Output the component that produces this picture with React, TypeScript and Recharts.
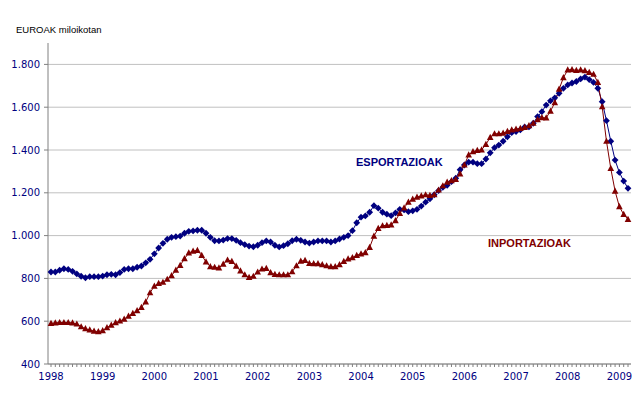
import { LineChart, Line, XAxis, YAxis, CartesianGrid } from 'recharts';

const years = [1998, 1999, 2000, 2001, 2002, 2003, 2004, 2005, 2006, 2007, 2008, 2009];
const monthNums = ['01', '02', '03', '04', '05', '06', '07', '08', '09', '10', '11', '12'];

// Jan 1998 .. Mar 2009
const months: string[] = years
  .flatMap((y) => monthNums.map((m) => `${y}-${m}`))
  .slice(0, 135);

const esportazioak = [
  830, 830, 838, 845, 842, 833, 821, 810, 803, 808, 808, 808,
  811, 817, 819, 817, 827, 842, 845, 845, 852, 858, 873, 889,
  915, 942, 964, 983, 992, 995, 998, 1011, 1020, 1022, 1025, 1025,
  1011, 992, 976, 975, 979, 986, 986, 978, 967, 958, 951, 948,
  955, 967, 975, 970, 955, 947, 953, 962, 976, 983, 978, 970,
  965, 970, 975, 975, 975, 970, 975, 984, 992, 1000, 1023, 1060,
  1086, 1092, 1109, 1140, 1128, 1109, 1100, 1093, 1106, 1123, 1120, 1112,
  1116, 1123, 1138, 1156, 1172, 1191, 1210, 1226, 1235, 1252, 1268, 1308,
  1330, 1343, 1343, 1336, 1336, 1358, 1387, 1411, 1423, 1441, 1462, 1481,
  1486, 1494, 1508, 1508, 1525, 1556, 1579, 1610, 1630, 1644, 1665, 1688,
  1704, 1713, 1720, 1732, 1741, 1729, 1716, 1688, 1626, 1537, 1441, 1353,
  1295, 1255, 1221,
];

const inportazioak = [
  590, 592, 594, 594, 594, 592, 587, 574, 565, 559, 554, 551,
  556, 570, 582, 593, 601, 610, 624, 637, 649, 665, 690, 733,
  764, 777, 782, 796, 813, 839, 861, 892, 919, 927, 931, 908,
  877, 855, 852, 849, 867, 886, 880, 857, 835, 817, 805, 810,
  830, 844, 847, 827, 819, 817, 817, 817, 831, 859, 881, 884,
  870, 869, 869, 864, 859, 855, 855, 864, 880, 891, 897, 908,
  915, 920, 945, 998, 1034, 1046, 1048, 1050, 1070, 1104, 1130, 1156,
  1170, 1180, 1186, 1191, 1188, 1191, 1213, 1233, 1250, 1257, 1263, 1288,
  1330, 1377, 1392, 1398, 1401, 1426, 1459, 1476, 1476, 1479, 1487, 1494,
  1498, 1501, 1506, 1514, 1525, 1542, 1551, 1550, 1582, 1621, 1684, 1738,
  1774, 1776, 1772, 1774, 1771, 1763, 1754, 1716, 1602, 1441, 1314, 1208,
  1135, 1099, 1076,
];

const yTicks = [400, 600, 800, 1000, 1200, 1400, 1600, 1800];

const data = months.map((month, i) => ({
  month,
  esportazioak: esportazioak[i],
  inportazioak: inportazioak[i],
}));

const NAVY = '#000080';
const MAROON = '#800000';

const fmtThousands = (v: number) =>
  v >= 1000 ? `${Math.floor(v / 1000)}.${String(v % 1000).padStart(3, '0')}` : String(v);

const YearTick = (props: any) => {
  const { x, y, payload } = props;
  const [yr, m] = String(payload.value).split('-');
  if (m !== '01') return <g />;
  return (
    <text x={x} y={y} dy="0.71em" textAnchor="middle" fill={NAVY} fontSize={10} fontFamily="DejaVu Sans">
      {yr}
    </text>
  );
};

const DiamondDot = (props: any) => {
  const { cx, cy, index } = props;
  if (cx == null || cy == null) return <g key={index} />;
  const r = 3.4;
  return (
    <polygon
      key={index}
      points={`${cx},${cy - r} ${cx + r},${cy} ${cx},${cy + r} ${cx - r},${cy}`}
      fill={NAVY}
    />
  );
};

const TriangleDot = (props: any) => {
  const { cx, cy, index } = props;
  if (cx == null || cy == null) return <g key={index} />;
  return (
    <polygon
      key={index}
      points={`${cx},${cy - 3.6} ${cx + 3.3},${cy + 2.6} ${cx - 3.3},${cy + 2.6}`}
      fill={MAROON}
    />
  );
};

export default function App() {
  return (
    <div style={{ position: 'absolute', left: 0, top: 0, width: 643, height: 400, background: '#fff' }}>
      <LineChart
        width={643}
        height={400}
        data={data}
        margin={{ top: 43, right: 12, bottom: 6, left: 0 }}
      >
        <CartesianGrid vertical={false} stroke="#c0c0c0" horizontalValues={yTicks} />
        <XAxis
          dataKey="month"
          interval={0}
          height={30}
          padding={{ left: 3, right: 3 }}
          tickSize={3}
          tickMargin={6}
          tick={<YearTick />}
          axisLine={{ stroke: '#808080' }}
          tickLine={{ stroke: '#808080' }}
        />
        <YAxis
          type="number"
          domain={[400, 1900]}
          ticks={yTicks}
          interval={0}
          width={48}
          tickSize={4}
          tickMargin={4}
          tickFormatter={fmtThousands}
          tick={{ fill: NAVY, fontSize: 10, fontFamily: 'DejaVu Sans' }}
          axisLine={{ stroke: '#808080' }}
          tickLine={{ stroke: '#808080' }}
        />
        <Line
          type="linear"
          dataKey="esportazioak"
          stroke={NAVY}
          strokeWidth={1}
          dot={DiamondDot}
          activeDot={false}
          isAnimationActive={false}
        />
        <Line
          type="linear"
          dataKey="inportazioak"
          stroke={MAROON}
          strokeWidth={1}
          dot={TriangleDot}
          activeDot={false}
          isAnimationActive={false}
        />
      </LineChart>
      <svg
        width={643}
        height={400}
        style={{ position: 'absolute', left: 0, top: 0, pointerEvents: 'none' }}
      >
        <text x={16} y={33.3} fontSize={9.5} fontFamily="Liberation Sans" fill="#000">
          EUROAK miloikotan
        </text>
        <text x={356} y={166.3} fontSize={11} fontWeight="bold" fontFamily="Liberation Sans" fill={NAVY}>
          ESPORTAZIOAK
        </text>
        <text x={488} y={247.3} fontSize={11} fontWeight="bold" fontFamily="Liberation Sans" fill={MAROON}>
          INPORTAZIOAK
        </text>
      </svg>
    </div>
  );
}
